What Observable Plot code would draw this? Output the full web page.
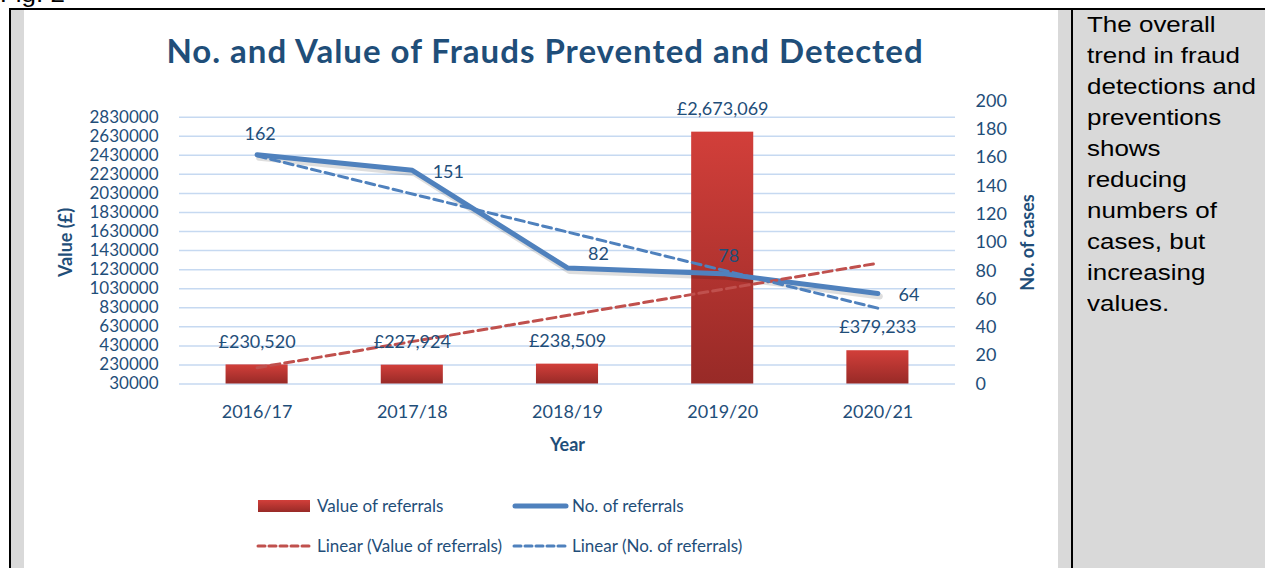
<!DOCTYPE html>
<html>
<head>
<meta charset="utf-8">
<script src="https://cdn.jsdelivr.net/npm/d3@7"></script>
<script src="https://cdn.jsdelivr.net/npm/@observablehq/plot@0.6"></script>
<style>
  html, body { margin: 0; padding: 0; background: #fff; }
  body { width: 1265px; height: 568px; overflow: hidden; position: relative; font-family: "Liberation Sans", Arial, sans-serif; }
  .abs { position: absolute; }
  #fig { left: 0; top: -21px; font-size: 22px; line-height: 31px; color: #000; transform: scaleX(1.18); transform-origin: 0 0; }
  #btop { left: 9px; top: 8px; width: 1256px; height: 2px; background: #000; }
  #bleft { left: 9px; top: 8px; width: 2px; height: 560px; background: #000; }
  #gleft { left: 11px; top: 10px; width: 13px; height: 558px; background: #d9d9d9; }
  #gright { left: 1058px; top: 10px; width: 13px; height: 558px; background: #d9d9d9; }
  #bmid { left: 1071px; top: 8px; width: 2px; height: 560px; background: #000; }
  #cell { left: 1073px; top: 10px; width: 192px; height: 558px; background: #d9d9d9; }
  #note { left: 1087px; top: 9px; font-size: 22px; line-height: 31px; color: #000; white-space: nowrap; transform: scaleX(1.18); transform-origin: 0 0; }
  #title { left: 24px; top: 30px; width: 1034px; text-align: center; padding-left: 8px; box-sizing: border-box;
           font-family: Lato, sans-serif; font-weight: 700; font-size: 33px; letter-spacing: 1px; line-height: 40px; color: #1f4e79; white-space: nowrap; }
  #chart { left: 24px; top: 10px; }
  .leg { position: absolute; font-family: Lato, sans-serif; font-size: 17px; color: #1f4e79; white-space: nowrap; line-height: 20px; }
  .sw { position: absolute; }
</style>
</head>
<body>
<div id="fig" class="abs">Fig. 2</div>
<div id="gleft" class="abs"></div>
<div id="gright" class="abs"></div>
<div id="cell" class="abs"></div>
<div id="btop" class="abs"></div>
<div id="bleft" class="abs"></div>
<div id="bmid" class="abs"></div>
<div id="note" class="abs">The overall<br>trend in fraud<br>detections and<br>preventions<br>shows<br>reducing<br>numbers of<br>cases, but<br>increasing<br>values.</div>
<div id="title" class="abs">No. and Value of Frauds Prevented and Detected</div>
<div id="chart" class="abs"></div>
<div id="legend"></div>
<script>
// ---- data ----
const years = ["2016/17", "2017/18", "2018/19", "2019/20", "2020/21"];
const valueOfReferrals = [230520, 227924, 238509, 2673069, 379233];
const noOfReferrals = [162, 151, 82, 78, 64];
const valueTicks = [30000, 230000, 430000, 630000, 830000, 1030000, 1230000, 1430000, 1630000, 1830000, 2030000, 2230000, 2430000, 2630000, 2830000];
const caseTicks = [0, 20, 40, 60, 80, 100, 120, 140, 160, 180, 200];
const seriesNames = ["Value of referrals", "No. of referrals", "Linear (Value of referrals)", "Linear (No. of referrals)"];

// ---- styling ----
const textColor = "#1f4e79";
const red = "#c0504d";
const blue = "#4f81bd";
const BASE = 30000;          // bottom of the value axis
const CASE_UNIT = 14850;     // one case on the secondary axis, in value units
const toY = c => BASE + c * CASE_UNIT;
const fromY = v => Math.round((v - BASE) / CASE_UNIT);

const rows = years.map((year, k) => ({ i: k + 1, year, value: valueOfReferrals[k], count: noOfReferrals[k] }));

// label nudges for the case-count labels (placement only)
const countNudges = { "2016/17": [3, -21], "2017/18": [36, 2], "2018/19": [31, -14], "2019/20": [6, -17], "2020/21": [31, 2] };

const countLabels = Object.entries(countNudges).map(([yr, [dx, dy]]) =>
  Plot.text(rows, { filter: d => d.year === yr, x: "i", y: d => toY(d.count), text: d => String(d.count), dx, dy, fill: textColor })
);

const svg = Plot.plot({
  width: 1034,
  height: 450,
  marginLeft: 155,
  marginRight: 103,
  marginTop: 90.5,
  marginBottom: 76.5,
  x: { type: "linear", domain: [0.5, 5.5] },
  y: { domain: [BASE, toY(200)] },
  style: { fontFamily: "Lato, sans-serif", fontSize: "18px", color: textColor, background: "transparent", overflow: "visible" },
  marks: [
    Plot.gridY(valueTicks, { stroke: "#c6d9f1", strokeOpacity: 1, strokeWidth: 1.5 }),
    Plot.axisY(valueTicks, { anchor: "left", tickSize: 0, tickPadding: 21, tickFormat: d3.format("d"), label: null, fill: textColor, fontSize: 17, letterSpacing: 0.6 }),
    Plot.axisY(caseTicks.map(toY), { anchor: "right", tickSize: 0, tickPadding: 20, tickFormat: v => String(fromY(v)), label: null, fill: textColor }),
    Plot.axisX(rows.map(d => d.i), { anchor: "bottom", tickSize: 0, tickPadding: 21.5, tickFormat: i => years[i - 1], label: null, fill: textColor }),
    Plot.text(["Value (£)"], { frameAnchor: "left", textAnchor: "middle", rotate: -90, dx: -113, fontWeight: "bold", fill: textColor }),
    Plot.text(["No. of cases"], { frameAnchor: "right", textAnchor: "middle", rotate: -90, dx: 73, fontWeight: "bold", fill: textColor }),
    Plot.text(["Year"], { frameAnchor: "bottom", dy: 66.5, fontWeight: "bold", fill: textColor }),
    Plot.rectY(rows, { x1: d => d.i - 0.2, x2: d => d.i + 0.2, y1: () => BASE, y2: "value", fill: "url(#barGrad)", ariaLabel: "bars" }),
    Plot.line(rows, { x: "i", y: d => toY(d.count), stroke: "#000", strokeOpacity: 0.13, strokeWidth: 6, dx: 2, dy: 3, strokeLinecap: "round", strokeLinejoin: "round" }),
    Plot.line(rows, { x: "i", y: d => toY(d.count), stroke: blue, strokeWidth: 5, strokeLinecap: "round", strokeLinejoin: "round" }),
    Plot.linearRegressionY(rows, { x: "i", y: "value", ci: 0, stroke: red, strokeWidth: 3, strokeDasharray: "9,5" }),
    Plot.linearRegressionY(rows, { x: "i", y: d => toY(d.count), ci: 0, stroke: blue, strokeWidth: 3, strokeDasharray: "9,5" }),
    Plot.text(rows, { x: "i", y: "value", text: d => "£" + d3.format(",")(d.value), dy: -23, fill: textColor }),
    ...countLabels
  ]
});

// bar gradient + soft shadow
const defs = d3.select(svg).insert("defs", ":first-child");
const grad = defs.append("linearGradient").attr("id", "barGrad").attr("x1", 0).attr("y1", 0).attr("x2", 0).attr("y2", 1);
grad.append("stop").attr("offset", "0%").attr("stop-color", "#d23f3a");
grad.append("stop").attr("offset", "100%").attr("stop-color", "#982a27");
d3.select(svg).select('g[aria-label="bars"]').style("filter", "drop-shadow(1px 2px 2px rgba(0,0,0,0.25))");
document.getElementById("chart").appendChild(svg);

// ---- legend ----
const legend = document.getElementById("legend");
const items = [
  { name: seriesNames[0], sx: 258, tx: 317, cy: 506, swatch: '<rect x="0" y="1" width="52" height="12" fill="url(#legGrad)"/>' },
  { name: seriesNames[1], sx: 512, tx: 572, cy: 506, swatch: `<line x1="3" y1="7" x2="54" y2="7" stroke="${blue}" stroke-width="5" stroke-linecap="round"/>` },
  { name: seriesNames[2], sx: 257, tx: 317, cy: 546, swatch: `<line x1="1" y1="7" x2="54" y2="7" stroke="${red}" stroke-width="3" stroke-dasharray="7,4" stroke-linecap="round"/>` },
  { name: seriesNames[3], sx: 513, tx: 572, cy: 546, swatch: `<line x1="1" y1="7" x2="54" y2="7" stroke="${blue}" stroke-width="3" stroke-dasharray="7,4" stroke-linecap="round"/>` }
];
items.forEach(it => {
  const s = document.createElement("div");
  s.className = "sw";
  s.style.left = it.sx + "px";
  s.style.top = (it.cy - 7) + "px";
  s.innerHTML = `<svg width="58" height="14" style="display:block;overflow:visible"><defs><linearGradient id="legGrad" x1="0" y1="0" x2="0" y2="1"><stop offset="0%" stop-color="#d23f3a"/><stop offset="100%" stop-color="#982a27"/></linearGradient></defs>${it.swatch}</svg>`;
  legend.appendChild(s);
  const t = document.createElement("div");
  t.className = "leg";
  t.style.left = it.tx + "px";
  t.style.top = (it.cy - 10) + "px";
  t.textContent = it.name;
  legend.appendChild(t);
});
</script>
</body>
</html>
